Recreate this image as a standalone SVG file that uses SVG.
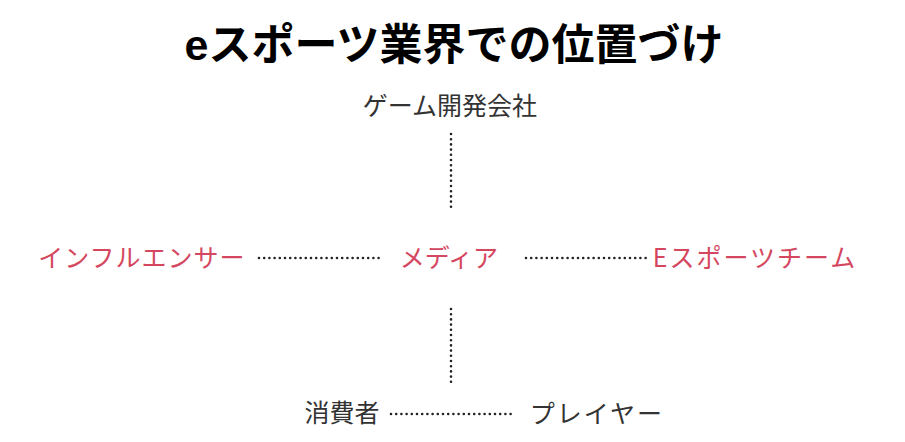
<svg xmlns="http://www.w3.org/2000/svg" width="905" height="442" viewBox="0 0 905 442">
<style>
.t{font-family:"Noto Sans CJK JP","Liberation Serif",serif;font-size:25px;fill:#333;}
.r{fill:#d4475f;}
.title{font-family:"Liberation Sans","Noto Sans CJK JP",sans-serif;font-size:43px;font-weight:bold;fill:#000;}
.dot{stroke:#222;stroke-width:2.6;stroke-linecap:round;stroke-dasharray:0 5.2;fill:none;}
</style>
<rect width="905" height="442" fill="#fff"/>
<text class="title" x="454" y="60" text-anchor="middle">eスポーツ業界での位置づけ</text>
<g id="connectors">
<line class="dot" x1="451" y1="134" x2="451" y2="207"/>
<line class="dot" x1="451" y1="309" x2="451" y2="382"/>
<line class="dot" x1="259" y1="258" x2="383" y2="258"/>
<line class="dot" x1="526" y1="258" x2="647" y2="258"/>
<line class="dot" x1="391" y1="414" x2="512" y2="414"/>
</g>
<g id="game"><text class="t" x="450" y="115" text-anchor="middle">ゲーム開発会社</text></g>
<g id="influencer"><text class="t r" x="142" y="267" text-anchor="middle" letter-spacing="1">インフルエンサー</text></g>
<g id="media"><text class="t r" x="449" y="267" text-anchor="middle">メディア</text></g>
<g id="team"><text class="t r" x="755" y="267" text-anchor="middle" letter-spacing="2">Eスポーツチーム</text></g>
<g id="consumer"><text class="t" x="342" y="422" text-anchor="middle">消費者</text></g>
<g id="player"><text class="t" x="597" y="423" text-anchor="middle" font-size="27" letter-spacing="2">プレイヤー</text></g>
</svg>
